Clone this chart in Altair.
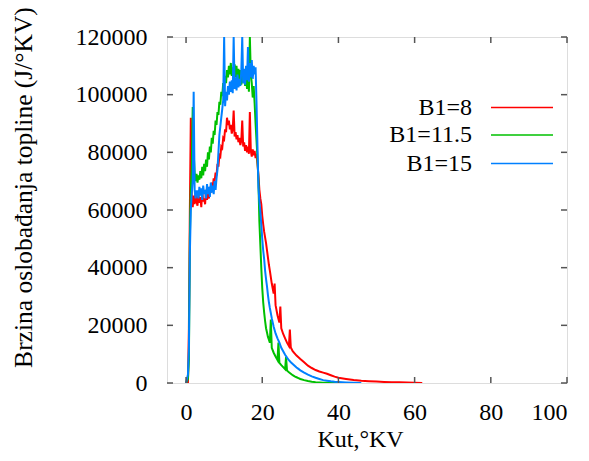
import altair as alt
import pandas as pd

# ---------------- data ----------------
series_names = ["B1=8", "B1=11.5", "B1=15"]
series_colors = ["#ff0000", "#00c000", "#0080ff"]

# common sampling grid for the noisy part of the curves (deg KV)
kut_main = [
    1.0, 1.25, 1.5, 1.75, 2.0, 2.25, 2.5, 2.75, 3.0, 3.25, 3.5, 3.75,
    4.0, 4.25, 4.5, 4.75, 5.0, 5.25, 5.5, 5.75, 6.0, 6.25, 6.5, 6.75,
    7.0, 7.25, 7.5, 7.75, 8.0, 8.25, 8.5, 8.75, 9.0, 9.25, 9.5, 9.75,
    10.0, 10.25, 10.5, 10.75, 11.0, 11.25, 11.5, 11.75, 12.0, 12.25, 12.5, 12.75,
    13.0, 13.25, 13.5, 13.75, 14.0, 14.25, 14.5, 14.75, 15.0, 15.25, 15.5, 15.75,
    16.0, 16.25, 16.5, 16.75, 17.0, 17.25, 17.5, 17.75, 18.0, 18.25, 18.5, 18.75,
    19.0,
]

kut_pre = [0.0, 0.5, 0.75]

# B1=8 (red)
q8_pre = [0, 0, 19000]
q8_main = [
    60000, 92000, 64000, 61000, 65000, 62000, 66000, 63000,
    61500, 65500, 62500, 64500, 61000, 66500, 63000, 64000,
    62000, 67000, 63500, 65500, 64000, 68000, 66000, 69500,
    67500, 71000, 70000, 73000, 72000, 76000, 75000, 79000,
    78500, 82000, 81500, 85000, 84500, 88000, 87000, 92000,
    89500, 91000, 88000, 89500, 86500, 88000, 94500, 85500,
    87000, 84500, 86000, 83500, 85000, 82500, 84000, 91000,
    82000, 83500, 80500, 82500, 80000, 82000, 79500, 94000,
    80500, 78500, 81000, 79000, 80500, 78000, 79500, 76000,
    72000,
]
kut8_tail = [
    19.25, 19.5, 19.75, 20, 20.25, 20.5, 20.75, 21, 21.25, 21.5, 21.75, 22,
    22.5, 23, 23.25, 23.5, 24, 24.5, 24.75, 25, 25.5, 26, 26.5, 27,
    27.25, 27.5, 28, 29, 30, 31, 32, 33, 34, 35, 36, 37, 38, 39, 40,
    42, 44, 46, 48, 50, 52, 54, 56, 58, 60, 62,
]
q8_tail = [
    67000, 64000, 62000, 58000, 55000, 52500, 50500, 48500, 46000, 43500, 41000, 39000,
    34500, 31000, 34500, 27000, 23500, 21000, 26500, 19000, 17000, 15500, 14000, 12800,
    18500, 12300, 11000, 9500, 8300, 7200, 6000, 5200, 4500, 4000, 3600, 3200, 2700, 2200, 1800,
    1400, 1050, 800, 620, 480, 380, 300, 230, 170, 120, 0,
]

# B1=11.5 (green)
q115_pre = [0, 1500, 8000]
q115_main = [
    50000, 68000, 74000, 95700, 80000, 73000, 70000, 72500,
    69500, 72000, 70500, 73500, 71000, 75000, 72000, 76000,
    73500, 77500, 75000, 80000, 77500, 82000, 80000, 85000,
    83000, 87500, 86000, 91000, 89500, 94000, 93000, 97500,
    96500, 101000, 99500, 104000, 102500, 106500, 104000, 108500,
    106000, 110000, 107000, 111000, 106500, 109500, 105500, 110500,
    106000, 110000, 104000, 109000, 105000, 108500, 103500, 108000,
    104000, 107500, 103000, 108000, 102000, 106500, 101000, 120000,
    107000, 104000, 99000, 103000, 97000, 90000, 84000, 78000,
    70000,
]
kut115_tail = [
    19.25, 19.5, 19.75, 20, 20.25, 20.5, 20.75, 21, 21.25, 21.5, 21.75, 22,
    22.25, 22.5, 23, 23.5, 24, 24.25, 24.5, 25, 25.5, 26, 26.25, 26.5,
    27, 27.5, 28, 28.5, 29, 29.5, 30, 31, 32, 33, 34, 35, 36, 38, 40,
]
q115_tail = [
    56000, 48000, 40000, 33000, 28000, 24500, 21500, 19000, 17500, 16000, 15000, 14000,
    22000, 12200, 10500, 9200, 8000, 14000, 7000, 6200, 5500, 4800, 9000, 4300,
    3700, 3200, 2700, 2300, 2000, 1700, 1400, 1000, 700, 450, 300, 200, 100, 50, 0,
]

# B1=15 (blue)
q15_pre = [0, 3000, 12000]
q15_main = [
    45000, 60000, 66000, 70000, 101000, 67000, 64000, 66500,
    66500, 64000, 68000, 65000, 67500, 63500, 68500, 65500,
    67000, 64000, 69000, 65500, 68000, 64500, 69500, 66000,
    68500, 65500, 70000, 67000, 71000, 74000, 80000, 86000,
    89000, 92000, 95000, 98000, 120000, 96000, 101000, 98000,
    103000, 100000, 104500, 101000, 105000, 100500, 120000, 102000,
    106000, 101500, 107000, 102500, 105500, 103000, 108000, 120000,
    104000, 109000, 103500, 110000, 105000, 116500, 104500, 111000,
    106000, 112000, 105500, 110000, 107000, 109500, 97000, 82000,
    68000,
]
kut15_tail = [
    19.25, 19.5, 19.75, 20, 20.25, 20.5, 20.75, 21, 21.25, 21.5, 21.75, 22,
    22.5, 23, 23.5, 24, 24.5, 25, 25.5, 26, 26.5, 27, 27.5, 28,
    28.5, 29, 29.5, 30, 31, 32, 33, 34, 35, 36, 37, 38, 39, 40, 42, 44, 46,
]
q15_tail = [
    63000, 59500, 55000, 50000, 46000, 43000, 39000, 36000, 33500, 30500, 28000, 26000,
    22500, 19500, 17200, 15500, 14000, 12200, 11000, 9800, 8800, 7900, 7200, 6600,
    6000, 5400, 4900, 4400, 3600, 2900, 2300, 1800, 1400, 1000, 800, 600, 450, 350, 200, 100, 0,
]

x_ticks = [0, 20, 40, 60, 80, 100]
y_ticks = [0, 20000, 40000, 60000, 80000, 100000, 120000]

# ---------------- chart ----------------
W, H = 400, 346
FONT = "Liberation Serif"
FRAME = "#555555"

x_scale = alt.Scale(domain=[-5, 100], nice=False, zero=False)
y_scale = alt.Scale(domain=[0, 120000], nice=False)

series_data = [
    (kut_pre + kut_main + kut8_tail, q8_pre + q8_main + q8_tail),
    (kut_pre + kut_main + kut115_tail, q115_pre + q115_main + q115_tail),
    (kut_pre + kut_main + kut15_tail, q15_pre + q15_main + q15_tail),
]

x_axis = alt.Axis(
    values=x_ticks, title="Kut,°KV", grid=False, domain=False, ticks=False,
    labelFont=FONT, labelFontSize=24, labelColor="black", labelPadding=17,
    titleFont=FONT, titleFontSize=24, titleFontWeight="normal", titleColor="black",
    titleX=193, titleY=56, titleBaseline="middle",
)
y_axis = alt.Axis(
    values=y_ticks, title="Brzina oslobađanja topline (J/°KV)", grid=False,
    domain=False, ticks=False, format="d",
    labelFont=FONT, labelFontSize=24, labelColor="black", labelPadding=20,
    titleFont=FONT, titleFontSize=25.5, titleFontWeight="normal", titleColor="black",
    titleX=-144, titleY=150, titleBaseline="middle", titleAlign="center", titleAngle=270,
)

def X(field):
    return alt.X(field, scale=x_scale, axis=x_axis)

def Y(field):
    return alt.Y(field, scale=y_scale, axis=y_axis)

layers = []
for (kx, qy), name, color in zip(series_data, series_names, series_colors):
    df = pd.DataFrame({"kut": kx, "q": qy, "serija": name})
    layers.append(
        alt.Chart(df).mark_line(strokeWidth=2, clip=True, interpolate="linear").encode(
            x=X("kut:Q"), y=Y("q:Q"), order="kut:Q", color=alt.value(color))
    )

# inward ticks on all four sides
xt = pd.DataFrame({"kut": x_ticks})
yt = pd.DataFrame({"q": y_ticks})
ticks = [
    alt.Chart(xt).mark_rule(strokeWidth=1.5).encode(
        x=X("kut:Q"), y=alt.value(H), y2=alt.value(H - 6), color=alt.value(FRAME)),
    alt.Chart(xt).mark_rule(strokeWidth=1.5).encode(
        x=X("kut:Q"), y=alt.value(0), y2=alt.value(6), color=alt.value(FRAME)),
    alt.Chart(yt).mark_rule(strokeWidth=1.5).encode(
        y=Y("q:Q"), x=alt.value(0), x2=alt.value(6), color=alt.value(FRAME)),
    alt.Chart(yt).mark_rule(strokeWidth=1.5).encode(
        y=Y("q:Q"), x=alt.value(W - 6), x2=alt.value(W), color=alt.value(FRAME)),
]

# key (gnuplot style: label right-aligned, sample line on its right)
key_rows = [70.5, 98, 126.5]
key = []
for name, color, ky in zip(series_names, series_colors, key_rows):
    one = pd.DataFrame({"serija": [name]})
    key.append(
        alt.Chart(one).mark_text(font=FONT, fontSize=24, align="right",
                                 baseline="middle").encode(
            text="serija:N", x=alt.value(305), y=alt.value(ky), color=alt.value("black"))
    )
    key.append(
        alt.Chart(one).mark_rule(strokeWidth=1.5).encode(
            x=alt.value(324), x2=alt.value(386), y=alt.value(ky), color=alt.value(color))
    )

chart = alt.layer(*layers, *ticks, *key).properties(
    width=W, height=H,
    autosize=alt.AutoSizeParams(type="none"),
    padding={"left": 159, "top": 29, "right": 14, "bottom": 70},
).configure_view(stroke=FRAME, strokeWidth=1.5).configure(background="white")

chart.save("out.html", embed_options={"renderer": "svg", "actions": False})
